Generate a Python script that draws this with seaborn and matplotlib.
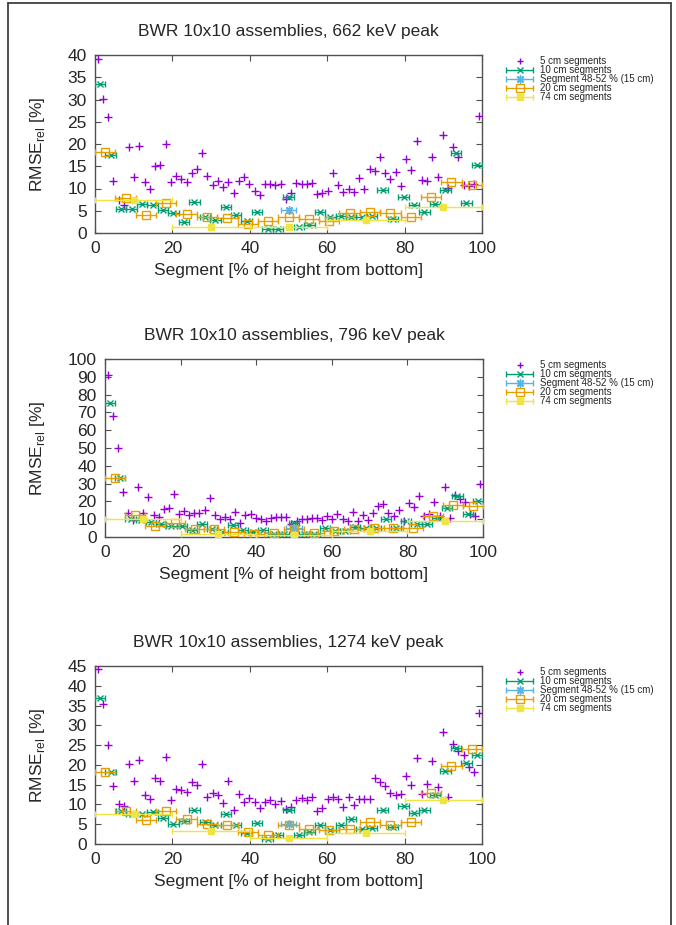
import matplotlib
matplotlib.use("Agg")
import matplotlib.pyplot as plt
import numpy as np
import pandas as pd
import seaborn as sns
from matplotlib.container import ErrorbarContainer
from matplotlib.legend_handler import HandlerErrorbar
from matplotlib.lines import Line2D

# RMSE_rel [%] per segment (BWR 10x10 assemblies)
peaks = ["662", "796", "1274"]

seg5_662 = [39.1, 30.1, 26.0, 11.6, 7.5, 6.2, 19.4, 12.6, 19.6, 11.5,
            9.9, 15.0, 15.2, 19.9, 11.5, 12.9, 12.2, 11.4, 13.5, 14.4,
            17.9, 12.9, 10.8, 11.7, 10.4, 11.4, 9.0, 11.7, 12.6, 10.9,
            9.5, 8.5, 11.1, 11.1, 10.8, 10.9, 7.7, 9.0, 11.2, 11.1,
            11.1, 11.2, 8.8, 9.0, 9.5, 13.4, 10.8, 9.2, 10.0, 9.2,
            12.4, 9.8, 14.3, 14.0, 17.0, 13.5, 12.1, 13.8, 10.5, 16.7,
            14.1, 20.6, 11.9, 11.7, 17.0, 12.6, 22.1, 10.1, 19.4, 17.0,
            10.7, 10.6, 11.1, 26.4]
seg10_662 = [33.4, 17.6, 5.3, 5.5, 6.5, 6.2, 5.1, 4.5, 2.5, 7.0,
             3.7, 3.0, 5.8, 4.0, 2.7, 4.8, 1.0, 1.0, 8.2, 1.3,
             1.7, 4.8, 3.7, 3.8, 3.6, 3.7, 3.8, 9.6, 3.1, 8.0,
             6.4, 4.7, 6.6, 9.7, 17.9, 6.7, 15.3]
seg15_662 = 5.2
seg20_662 = [18.1, 7.8, 4.1, 6.8, 4.3, 3.7, 3.4, 2.0, 2.7, 3.5,
             3.1, 2.6, 4.5, 4.7, 4.6, 3.5, 8.2, 11.5, 10.7]
seg74_662 = [7.4, 1.35, 1.35, 2.9, 5.8]

seg5_796 = [91.2, 68.1, 49.9, 25.1, 13.3, 9.4, 28.3, 13.5, 22.7, 12.4,
            11.3, 15.6, 16.5, 24.0, 12.8, 14.4, 12.4, 13.3, 13.3, 15.0,
            22.0, 12.6, 10.1, 11.3, 10.3, 13.9, 8.1, 12.2, 12.8, 10.5,
            10.3, 8.8, 10.9, 11.3, 11.3, 11.3, 7.5, 8.8, 9.9, 9.9,
            10.9, 10.7, 9.8, 11.6, 9.9, 12.9, 10.3, 9.2, 14.3, 9.2,
            12.4, 9.6, 13.5, 17.4, 18.4, 13.7, 12.0, 15.2, 9.2, 19.3,
            16.7, 22.9, 11.6, 13.1, 19.7, 12.0, 28.3, 10.9, 23.8, 21.5,
            19.5, 12.8, 12.0, 29.6]
seg10_796 = [75.0, 33.4, 9.9, 9.4, 8.4, 7.3, 6.2, 6.0, 3.8, 7.1,
             4.5, 2.8, 6.6, 3.8, 2.6, 3.8, 1.9, 1.9, 8.1, 1.9,
             1.9, 4.9, 3.4, 3.4, 5.6, 5.1, 5.1, 10.1, 5.1, 9.2,
             7.5, 7.5, 10.7, 16.3, 23.1, 12.8, 20.3]
seg15_796 = 5.3
seg20_796 = [33.2, 12.6, 6.2, 8.1, 4.5, 4.7, 3.0, 1.5, 2.3, 4.5,
             2.4, 3.4, 4.7, 5.1, 5.1, 5.1, 12.0, 17.8, 17.4]
seg74_796 = [9.9, 1.9, 1.3, 3.2, 9.2]

seg5_1274 = [44.2, 35.3, 25.0, 14.6, 10.1, 9.6, 20.3, 15.9, 21.3, 12.3,
             11.4, 16.8, 16.0, 22.0, 11.1, 14.0, 13.7, 13.1, 15.6, 14.8,
             20.2, 12.0, 12.9, 12.4, 10.3, 16.0, 8.6, 12.7, 10.5, 11.7,
             10.5, 9.1, 10.7, 11.1, 10.1, 10.8, 8.8, 9.3, 11.2, 11.7,
             11.1, 11.8, 8.4, 9.1, 11.3, 11.8, 11.5, 9.3, 11.9, 9.9,
             11.4, 11.4, 11.4, 16.8, 15.6, 14.6, 12.9, 12.4, 12.6, 17.1,
             14.9, 21.7, 12.7, 15.2, 20.9, 14.4, 28.4, 12.0, 25.3, 23.6,
             22.5, 19.4, 18.2, 33.1]
seg10_1274 = [36.8, 18.2, 8.4, 7.5, 7.6, 8.1, 6.5, 5.0, 5.7, 8.7,
              5.6, 4.7, 7.7, 4.9, 2.8, 5.4, 1.3, 2.2, 8.7, 2.2,
              3.1, 4.7, 3.5, 4.9, 6.3, 3.9, 4.0, 8.7, 4.2, 9.6,
              7.9, 8.5, 12.5, 18.5, 24.2, 20.4, 22.5]
seg15_1274 = 5.0
seg20_1274 = [18.3, 8.4, 6.1, 8.4, 6.4, 5.0, 4.8, 3.1, 2.3, 4.9,
              3.8, 3.6, 3.9, 5.6, 4.9, 5.6, 13.0, 19.8, 23.9]
seg74_1274 = [7.7, 3.2, 1.5, 2.9, 11.1]

y_max = [40, 100, 45]
y_step = [5, 10, 5]

PURPLE = "#9400d3"
GREEN = "#009e73"
BLUE = "#56b4e9"
ORANGE = "#e69f00"
YELLOW = "#f0e442"
SPINE = "#505050"


def centers(n):
    # segment centres in % of the active height, plus half-widths for the x error bars
    width = 100.0 / n
    return (np.arange(n) + 0.5) * width, width / 2


sns.set_style("ticks")
plt.rcParams["font.family"] = ["Liberation Sans", "DejaVu Sans"]
plt.rcParams["mathtext.fontset"] = "custom"
plt.rcParams["mathtext.rm"] = "Liberation Sans"

W, H = 676, 925
fig = plt.figure(figsize=(W / 100, H / 100), dpi=100)

# axes boxes in pixels: left, top, right, bottom
boxes = [(95, 55, 482, 233), (105, 359, 483, 537), (95, 666, 482, 844)]
panels = [
    (seg5_662, seg10_662, seg15_662, seg20_662, seg74_662),
    (seg5_796, seg10_796, seg15_796, seg20_796, seg74_796),
    (seg5_1274, seg10_1274, seg15_1274, seg20_1274, seg74_1274),
]
bar_kw = dict(elinewidth=1.0, capsize=2.5, capthick=1.0, mew=1.0)

for peak, (l, t, r, b), data, ymax, ystep in zip(peaks, boxes, panels, y_max, y_step):
    s5, s10, s15, s20, s74 = data
    ax = fig.add_axes([l / W, 1 - b / H, (r - l) / W, (b - t) / H])

    x5, _ = centers(len(s5))
    x10, h10 = centers(len(s10))
    x20, h20 = centers(len(s20))
    x74, h74 = centers(len(s74))

    df5 = pd.DataFrame({"segment": x5, "rmse": s5})
    sns.scatterplot(data=df5, x="segment", y="rmse", ax=ax, marker="+", color=PURPLE,
                    s=32, linewidth=1.0, zorder=3, legend=False)
    e10 = ax.errorbar(x10, s10, xerr=h10, fmt="x", color=GREEN, ms=4, zorder=4, **bar_kw)
    e15 = ax.errorbar([50], [s15], xerr=2, fmt="", marker=(8, 2, 0), ls="none",
                      color=BLUE, ms=6, zorder=5, **bar_kw)
    e20 = ax.errorbar(x20, s20, xerr=h20, fmt="s", color=ORANGE, mfc="none", ms=6,
                      zorder=6, **bar_kw)
    e74 = ax.errorbar(x74, s74, xerr=h74, fmt="s", color=YELLOW, ms=4.5, zorder=7, **bar_kw)

    ax.set_xlim(0, 100)
    ax.set_ylim(0, ymax)
    ax.set_xticks(np.arange(0, 101, 20))
    ax.set_yticks(np.arange(0, ymax + 1, ystep))
    ax.tick_params(direction="in", top=True, right=True, length=4, width=0.8,
                   color=SPINE, labelsize=12.5, pad=6)
    for sp in ax.spines.values():
        sp.set_visible(True)
        sp.set_color(SPINE)
        sp.set_linewidth(1.0)

    ax.set_title(f"BWR 10x10 assemblies, {peak} keV peak", fontsize=12.5, pad=14)
    ax.set_xlabel("Segment [% of height from bottom]", fontsize=12.5, labelpad=5)
    ax.set_ylabel(r"RMSE$_{\rm rel}$ [%]", fontsize=12.5)
    ax.yaxis.set_label_coords((47 - l) / (r - l), 0.5)

    plus = Line2D([], [], marker="+", ls="none", color=PURPLE, ms=5, mew=1.0)
    ax.legend([plus, e10, e15, e20, e74],
              ["5 cm segments", "10 cm segments", "Segment 48-52 % (15 cm)",
               "20 cm segments", "74 cm segments"],
              handler_map={ErrorbarContainer: HandlerErrorbar(xerr_size=1.35)},
              loc="upper left", bbox_to_anchor=(506 / W, 1 - (t + 1) / H),
              bbox_transform=fig.transFigure, frameon=False, fontsize=7,
              borderpad=0, borderaxespad=0, handlelength=2.8, handletextpad=0.7,
              labelspacing=-0.1)

# page frame (left, top, right edges)
for xs, ys in [([8, 8], [925, 3]), ([8, 671], [3, 3]), ([671, 671], [3, 925])]:
    fig.add_artist(Line2D([x / W for x in xs], [1 - y / H for y in ys],
                          color="#404040", lw=1.3, transform=fig.transFigure))

fig.savefig("out.png", dpi=100)
